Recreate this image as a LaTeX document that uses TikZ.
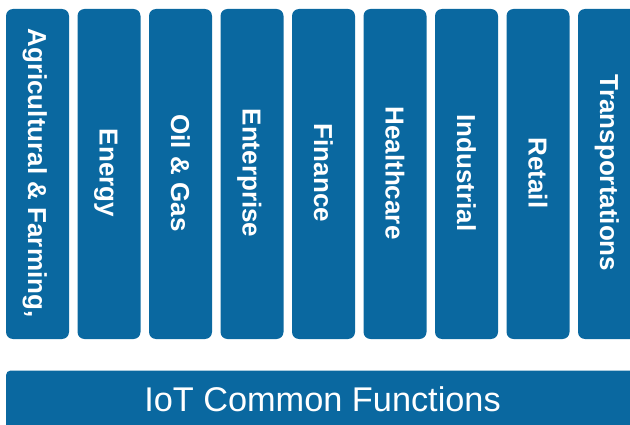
\documentclass[tikz,border=0pt]{standalone}
\usepackage{fontspec}
\setmainfont{Liberation Sans}
\definecolor{iotblue}{RGB}{10,104,160}
\begin{document}
\begin{tikzpicture}[x=1pt,y=-1pt,
  colbox/.style={draw=none,fill=iotblue,rounded corners=7pt,minimum width=63pt,minimum height=330pt,inner sep=0pt},
  collabel/.style={text=white,font=\fontsize{26}{30}\selectfont\bfseries,rotate=-90,anchor=base,inner sep=0pt},
  basebox/.style={draw=none,fill=iotblue,rounded corners=4pt,minimum width=640pt,minimum height=70pt,inner sep=0pt,anchor=north west},
  baselabel/.style={text=white,font=\fontsize{34.3}{40}\selectfont,anchor=base,inner sep=0pt}]
\useasboundingbox (0,0) rectangle (630,425);
\foreach \i/\t in {0/{Agricultural \& Farming,},1/Energy,2/{Oil \& Gas},3/Enterprise,4/Finance,5/Healthcare,6/Industrial,7/Retail,8/Transportations}{
  \node[colbox] (c\i) at ({37.5+71.5*\i},174) {};
  \node[collabel] (t\i) at ({37.5+71.5*\i-9.4},173) {\t};
}
\node[basebox] (base) at (6,370.5) {};
\node[baselabel] (basetext) at (322.5,411.5) {IoT Common Functions};
\end{tikzpicture}
\end{document}
